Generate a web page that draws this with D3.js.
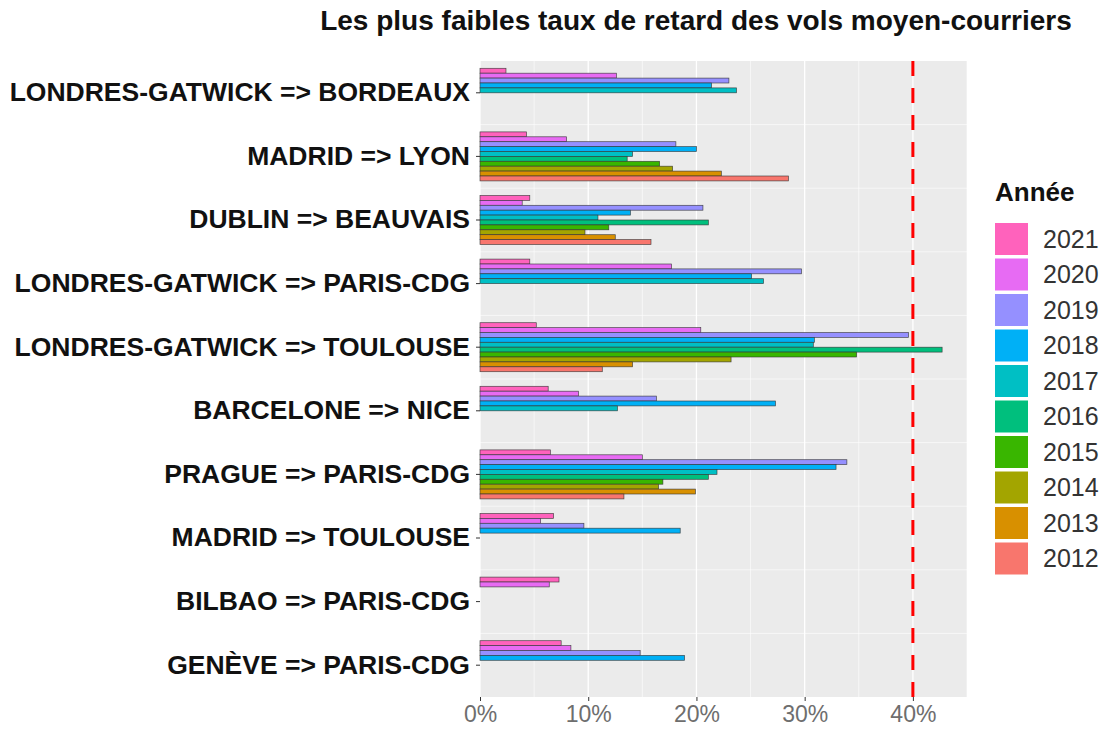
<!DOCTYPE html>
<html>
<head>
<meta charset="utf-8">
<script src="https://cdn.jsdelivr.net/npm/d3@7"></script>
<style>
  body { margin: 0; background: #fff; }
  text { font-family: "Liberation Sans", Arial, sans-serif; }
</style>
</head>
<body>
<div id="chart"></div>
<script>
document.addEventListener("DOMContentLoaded", function(){

  // routes, du haut vers le bas
  var routes = ["LONDRES-GATWICK => BORDEAUX", "MADRID => LYON", "DUBLIN => BEAUVAIS",
    "LONDRES-GATWICK => PARIS-CDG", "LONDRES-GATWICK => TOULOUSE", "BARCELONE => NICE",
    "PRAGUE => PARIS-CDG", "MADRID => TOULOUSE", "BILBAO => PARIS-CDG", "GENÈVE => PARIS-CDG"];

  var years = ["2021","2020","2019","2018","2017","2016","2015","2014","2013","2012"];

  // taux de retard (%) par année, dans l'ordre des routes
  var v2021 = [2.4, 4.3, 4.6, 4.6, 5.2, 6.3, 6.5, 6.8, 7.3, 7.5];
  var v2020 = [12.6, 8.0, 3.9, 17.7, 20.4, 9.1, 15.0, 5.6, 6.4, 8.4];
  var v2019 = [23.0, 18.1, 20.6, 29.7, 39.6, 16.3, 33.9, 9.6, null, 14.8];
  var v2018 = [21.4, 20.0, 13.9, 25.1, 30.9, 27.3, 32.9, 18.5, null, 18.9];
  var v2017 = [23.7, 14.1, 10.9, 26.2, 30.8, 12.7, 21.9, null, null, null];
  var v2016 = [null, 13.6, 21.1, null, 42.7, null, 21.1, null, null, null];
  var v2015 = [null, 16.6, 11.9, null, 34.8, null, 16.9, null, null, null];
  var v2014 = [null, 17.8, 9.7, null, 23.2, null, 16.5, null, null, null];
  var v2013 = [null, 22.3, 12.5, null, 14.1, null, 19.9, null, null, null];
  var v2012 = [null, 28.5, 15.8, null, 11.3, null, 13.3, null, null, null];

  var xTicks = [0, 10, 20, 30, 40];
  var xMinor = [5, 15, 25, 35, 45];
  var seuil = 40;

  var series = {"2021": v2021, "2020": v2020, "2019": v2019, "2018": v2018, "2017": v2017,
    "2016": v2016, "2015": v2015, "2014": v2014, "2013": v2013, "2012": v2012};

  var data = [];
  years.forEach(function(y){
    series[y].forEach(function(v, i){
      if (v !== null) data.push({route: routes[i], year: y, value: v});
    });
  });

  var width = 1106, height = 729;
  var left = 480, right = 967, top = 61, bottom = 697;

  var color = d3.scaleOrdinal()
    .domain(years)
    .range(["#FF62BC","#E76BF3","#9590FF","#00B0F6","#00BFC4","#00BF7D","#39B600","#A3A500","#D89000","#F8766D"]);

  var x = d3.scaleLinear().domain([0, 45]).range([left, right]);
  var y = d3.scaleBand().domain(routes).range([top, bottom]);
  var inner = d3.scaleBand().domain(years).range([-24.5, 24.5]);

  var svg = d3.select("#chart")
    .append("svg")
    .attr("width", width)
    .attr("height", height);

  // fond du panneau
  svg.append("rect")
    .attr("x", left).attr("y", top)
    .attr("width", right - left).attr("height", bottom - top)
    .attr("fill", "#EBEBEB");

  // grille
  svg.selectAll(".minor")
    .data(xMinor)
    .enter().append("line")
    .attr("x1", function(d){ return x(d); }).attr("x2", function(d){ return x(d); })
    .attr("y1", top).attr("y2", bottom)
    .attr("stroke", "#fff").attr("stroke-width", 0.6);

  svg.selectAll(".hgrid")
    .data(routes.slice(1))
    .enter().append("line")
    .attr("x1", left).attr("x2", right)
    .attr("y1", function(d){ return y(d); }).attr("y2", function(d){ return y(d); })
    .attr("stroke", "#fff").attr("stroke-width", 0.6);

  svg.selectAll(".major")
    .data(xTicks)
    .enter().append("line")
    .attr("x1", function(d){ return x(d); }).attr("x2", function(d){ return x(d); })
    .attr("y1", top).attr("y2", bottom)
    .attr("stroke", "#fff").attr("stroke-width", 1.3);

  // barres
  svg.selectAll(".bar")
    .data(data)
    .enter().append("rect")
    .attr("x", x(0))
    .attr("y", function(d){ return y(d.route) + y.bandwidth() / 2 + inner(d.year); })
    .attr("width", function(d){ return x(d.value) - x(0); })
    .attr("height", inner.bandwidth())
    .attr("fill", function(d){ return color(d.year); })
    .attr("stroke", "#333")
    .attr("stroke-opacity", 0.85)
    .attr("stroke-width", 0.7);

  // ligne seuil
  svg.append("line")
    .attr("x1", x(seuil)).attr("x2", x(seuil))
    .attr("y1", bottom).attr("y2", top)
    .attr("stroke", "#FF0000")
    .attr("stroke-width", 3)
    .attr("stroke-dasharray", "15,12");

  // axe x
  var xAxis = svg.append("g")
    .attr("transform", "translate(0," + bottom + ")")
    .call(d3.axisBottom(x).tickValues(xTicks).tickSize(4).tickPadding(5)
      .tickFormat(function(d){ return d + "%"; }));
  xAxis.select(".domain").remove();
  xAxis.selectAll("line").attr("stroke", "#333");
  xAxis.selectAll("text")
    .attr("fill", "#6E6E6E")
    .style("font-size", "23px")
    .style("font-family", "'Liberation Sans', Arial, sans-serif");

  // axe y
  var yAxis = svg.append("g")
    .attr("transform", "translate(" + left + ",0)")
    .call(d3.axisLeft(y).tickSize(4).tickPadding(6));
  yAxis.select(".domain").remove();
  yAxis.selectAll("line").attr("stroke", "#333");
  yAxis.selectAll("text")
    .attr("fill", "#111")
    .style("font-size", "26.5px")
    .style("font-weight", "bold")
    .style("font-family", "'Liberation Sans', Arial, sans-serif");

  // titre
  svg.append("text")
    .attr("x", 696)
    .attr("y", 30)
    .attr("text-anchor", "middle")
    .style("font-size", "28px")
    .style("font-weight", "bold")
    .attr("fill", "#111")
    .text("Les plus faibles taux de retard des vols moyen-courriers");

  // légende
  var legend = svg.append("g").attr("transform", "translate(995,0)");
  legend.append("text")
    .attr("x", 0).attr("y", 201)
    .style("font-size", "26px")
    .style("font-weight", "bold")
    .attr("fill", "#111")
    .text("Année");

  var key = legend.selectAll(".key")
    .data(years)
    .enter().append("g")
    .attr("transform", function(d, i){ return "translate(0," + (223 + i * 35.5) + ")"; });

  key.append("rect")
    .attr("width", 33).attr("height", 32)
    .attr("fill", function(d){ return color(d); });

  key.append("text")
    .attr("x", 48).attr("y", 16)
    .attr("dy", "0.35em")
    .style("font-size", "25px")
    .attr("fill", "#333")
    .text(function(d){ return d; });

});
</script>
</body>
</html>
